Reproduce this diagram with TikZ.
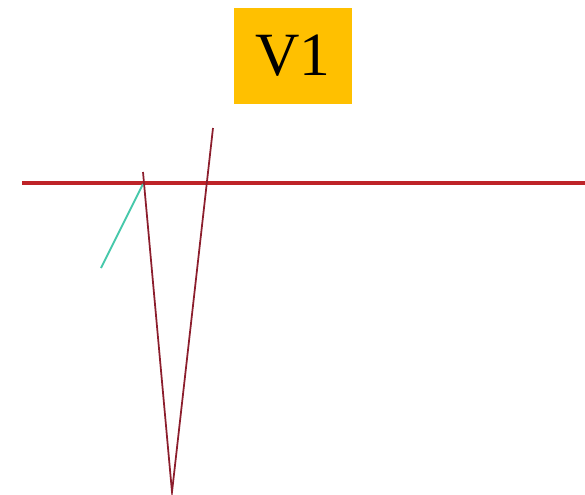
\documentclass[tikz,border=0pt]{standalone}
\usepackage{fontspec}
\setmainfont{Liberation Serif}
\usetikzlibrary{positioning}
\definecolor{boxgold}{RGB}{255,192,0}
\definecolor{lineRed}{RGB}{190,35,40}
\definecolor{traceRed}{RGB}{140,30,45}
\definecolor{traceTeal}{RGB}{70,200,170}

\begin{document}
\begin{tikzpicture}[x=0.02cm, y=-0.02cm]
  \useasboundingbox (0,0) rectangle (585,494);
  \node[fill=boxgold,minimum width=2.36cm,minimum height=1.92cm,inner sep=0pt,font=\fontsize{35}{38}\selectfont] (label) at (293,56) {V1};
  % baseline and trace points
  \coordinate (baseL) at (22,183);
  \coordinate (baseR) at (585,183);
  \coordinate (tealA) at (101,268);
  \coordinate (peakA) at (143,172);
  \coordinate (tealB) at (143,184);
  \coordinate (trough) at (172,492);
  \coordinate (peakB) at (213,128);
  \draw[lineRed,line width=2.2pt] (baseL) -- (baseR);
  \draw[traceTeal,line width=1.1pt] (tealA) -- (tealB);
  \draw[traceRed,line width=1pt] (peakA) -- (trough) -- (peakB);
\end{tikzpicture}
\end{document}
